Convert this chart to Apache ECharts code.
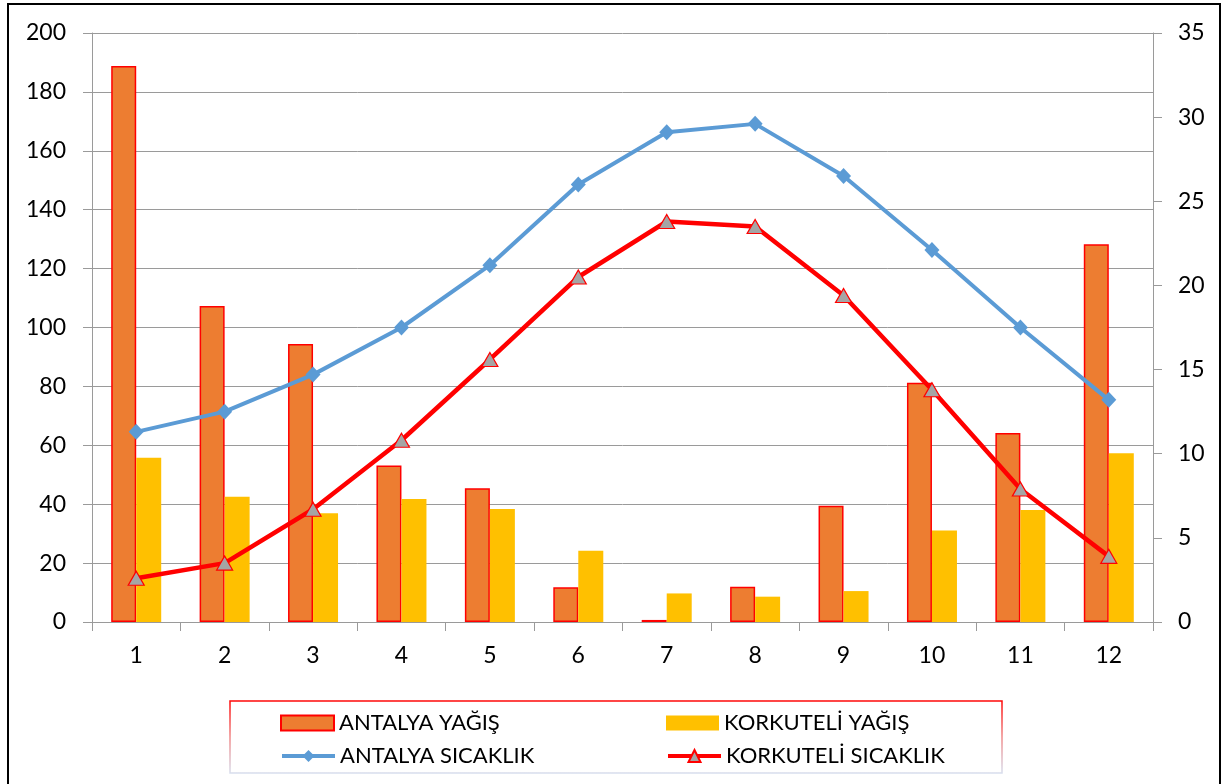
<!DOCTYPE html>
<html>
<head>
<meta charset="utf-8">
<script src="https://cdn.jsdelivr.net/npm/echarts@6/dist/echarts.min.js"></script>
<style>
  html, body { margin: 0; padding: 0; background: #fff; }
  #chart { width: 1224px; height: 784px; }
</style>
</head>
<body>
<div id="chart"></div>
<script>
// months
var months = ["1", "2", "3", "4", "5", "6", "7", "8", "9", "10", "11", "12"];

// rainfall (mm), left axis
var antalyaRain = [188.8, 107.3, 94.4, 53.1, 45.4, 11.8, 0.7, 12.0, 39.5, 81.2, 64.2, 128.3];
var korkuteliRain = [55.8, 42.5, 36.9, 41.8, 38.4, 24.2, 9.7, 8.6, 10.5, 31.1, 38.0, 57.3];

// temperature (C), right axis
var antalyaTemp = [11.3, 12.5, 14.7, 17.5, 21.2, 26.0, 29.1, 29.6, 26.5, 22.1, 17.5, 13.2];
var korkuteliTemp = [2.6, 3.5, 6.7, 10.8, 15.6, 20.5, 23.8, 23.5, 19.4, 13.8, 7.9, 3.9];

var names = ["ANTALYA YAĞIŞ", "KORKUTELİ YAĞIŞ", "ANTALYA SICAKLIK", "KORKUTELİ SICAKLIK"];

var font = "Lato, 'Open Sans', sans-serif";
var gridColor = "#9a9a9a";

function legendAt(name, left, top, icon) {
  var lg = {
    data: [name],
    left: left,
    top: top,
    padding: 0,
    itemWidth: 53,
    itemHeight: 15,
    textStyle: { fontFamily: font, fontSize: 22, color: "#000" }
  };
  if (icon) lg.icon = icon;
  else lg.lineStyle = { width: 4 };
  return lg;
}

var chart = echarts.init(document.getElementById("chart"));

var option = {
  animation: false,
  backgroundColor: "#fff",
  grid: { left: 92, right: 71, top: 33, bottom: 162 },
  legend: [
    legendAt(names[0], 280, 712, "rect"),
    legendAt(names[1], 666, 712, "rect"),
    legendAt(names[2], 280, 745),
    legendAt(names[3], 666, 745)
  ],
  graphic: [
    {
      type: "rect",
      shape: { x: 8, y: 4, width: 1212, height: 800 },
      style: { fill: "none", stroke: "#000", lineWidth: 2 },
      silent: true
    },
    {
      type: "rect",
      shape: { x: 230, y: 701, width: 772, height: 72 },
      style: {
        fill: "none",
        lineWidth: 1.5,
        stroke: new echarts.graphic.LinearGradient(0, 0, 0, 1, [
          { offset: 0, color: "#ff0000" },
          { offset: 0.5, color: "#f08a8a" },
          { offset: 1, color: "#d6e3f3" }
        ])
      },
      silent: true
    }
  ],
  xAxis: {
    type: "category",
    data: months,
    axisLine: { lineStyle: { color: gridColor, width: 1 } },
    axisTick: { show: true, length: 9, lineStyle: { color: gridColor } },
    axisLabel: { fontFamily: font, fontSize: 23, color: "#000", margin: 22 }
  },
  yAxis: [
    {
      type: "value",
      min: 0,
      max: 200,
      interval: 20,
      axisLine: { show: true, lineStyle: { color: gridColor } },
      axisTick: { show: true, length: 9, lineStyle: { color: gridColor } },
      splitLine: { lineStyle: { color: gridColor, width: 1 } },
      axisLabel: { fontFamily: font, fontSize: 23, color: "#000", margin: 26 }
    },
    {
      type: "value",
      min: 0,
      max: 35,
      interval: 5,
      axisLine: { show: true, lineStyle: { color: gridColor } },
      axisTick: { show: true, length: 9, lineStyle: { color: gridColor } },
      splitLine: { show: false },
      axisLabel: { fontFamily: font, fontSize: 23, color: "#000", margin: 25 }
    }
  ],
  series: [
    {
      name: names[0],
      type: "bar",
      data: antalyaRain,
      barWidth: 25,
      barGap: "0%",
      itemStyle: { color: "#ED7D31", borderColor: "#ff0000", borderWidth: 1.5 }
    },
    {
      name: names[1],
      type: "bar",
      data: korkuteliRain,
      barWidth: 25,
      itemStyle: { color: "#FFC000" }
    },
    {
      name: names[2],
      type: "line",
      yAxisIndex: 1,
      data: antalyaTemp,
      symbol: "diamond",
      symbolSize: [15, 16],
      lineStyle: { color: "#5B9BD5", width: 4 },
      itemStyle: { color: "#5B9BD5" },
      z: 5
    },
    {
      name: names[3],
      type: "line",
      yAxisIndex: 1,
      data: korkuteliTemp,
      symbol: "triangle",
      symbolSize: [16, 14],
      lineStyle: { color: "#ff0000", width: 4.5 },
      itemStyle: { color: "#A5A5A5", borderColor: "#ff0000", borderWidth: 1.2 },
      z: 6
    }
  ]
};

chart.setOption(option);
</script>
</body>
</html>
